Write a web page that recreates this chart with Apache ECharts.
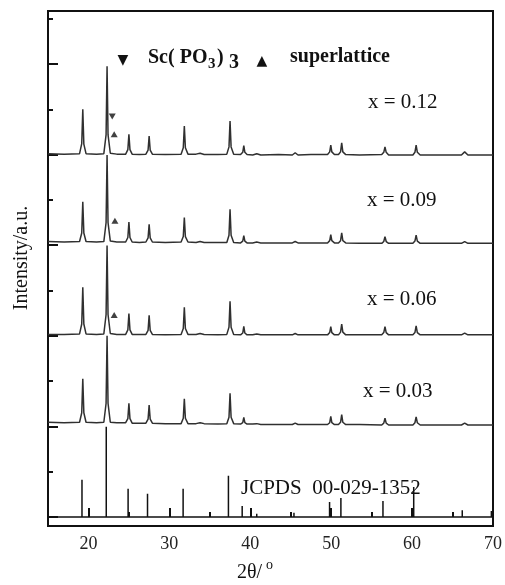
<!DOCTYPE html>
<html><head><meta charset="utf-8">
<script src="https://cdn.jsdelivr.net/npm/echarts/dist/echarts.min.js"></script>
<style>html,body{margin:0;padding:0;background:#fff}#c{width:505px;height:585px}</style>
</head><body><div id="c"></div>
<script>
// 2θ grid shared by the four measured patterns
var twoTheta = [15.0,17.0,18.9,19.17,19.3,19.43,19.7,21.0,21.9,22.18,22.3,22.42,22.7,23.5,24.6,24.87,25.0,25.13,25.4,26.3,
27.1,27.37,27.5,27.63,27.9,29.5,31.45,31.72,31.85,31.98,32.3,33.3,33.8,34.3,36.0,37.1,37.37,37.5,37.63,37.95,
38.8,39.07,39.2,39.33,39.6,40.3,40.8,41.3,43.5,45.2,45.55,45.9,47.5,49.55,49.82,49.95,50.08,50.4,50.9,51.16,
51.3,51.44,51.8,53.5,56.25,56.5,56.65,56.8,57.1,58.5,60.1,60.35,60.5,60.65,61.0,63.0,66.1,66.5,66.9,68.5,70.0];

var int012 = [8.02,8.01,8.02,8.24,9.00,8.23,8.02,8.01,8.02,8.44,9.95,8.44,8.03,8.01,8.01,8.11,8.45,8.11,8.01,8.00,
8.01,8.10,8.41,8.10,8.01,8.00,8.01,8.15,8.63,8.15,8.01,8.01,8.03,8.00,8.00,8.01,8.17,8.74,8.17,8.01,
8.00,8.05,8.20,8.05,8.00,7.99,8.02,7.99,8.00,7.99,8.04,7.99,8.00,8.00,8.06,8.21,8.06,8.00,8.00,8.06,
8.26,8.06,8.00,7.99,8.00,8.05,8.17,8.05,7.99,7.99,7.99,8.05,8.21,8.05,7.99,7.99,7.99,8.06,7.99,7.99,7.99];

var int009 = [6.08,6.07,6.08,6.27,6.96,6.27,6.08,6.07,6.08,6.50,7.99,6.50,6.09,6.07,6.07,6.17,6.51,6.17,6.07,6.06,
6.07,6.16,6.46,6.16,6.07,6.06,6.07,6.19,6.61,6.19,6.07,6.06,6.08,6.06,6.06,6.06,6.22,6.79,6.22,6.06,
6.05,6.09,6.21,6.09,6.05,6.05,6.07,6.05,6.05,6.05,6.08,6.05,6.05,6.05,6.10,6.23,6.10,6.05,6.05,6.10,
6.27,6.10,6.05,6.04,6.04,6.08,6.19,6.08,6.04,6.04,6.04,6.09,6.22,6.09,6.04,6.04,6.04,6.08,6.04,6.04,6.04];

var int006 = [4.03,4.03,4.04,4.26,5.07,4.26,4.04,4.03,4.04,4.47,5.99,4.47,4.05,4.03,4.03,4.13,4.49,4.13,4.03,4.03,
4.03,4.12,4.45,4.12,4.03,4.02,4.03,4.16,4.63,4.16,4.03,4.03,4.05,4.03,4.02,4.03,4.19,4.76,4.19,4.03,
4.02,4.06,4.21,4.06,4.02,4.02,4.04,4.02,4.02,4.02,4.05,4.02,4.02,4.02,4.07,4.20,4.07,4.02,4.02,4.08,
4.26,4.08,4.02,4.02,4.02,4.07,4.20,4.07,4.02,4.02,4.02,4.07,4.22,4.07,4.02,4.02,4.02,4.06,4.02,4.02,4.02];

var int003 = [2.09,2.08,2.09,2.30,3.05,2.30,2.09,2.08,2.09,2.51,4.00,2.51,2.09,2.08,2.08,2.17,2.51,2.17,2.07,2.07,
2.07,2.16,2.47,2.16,2.07,2.06,2.06,2.18,2.61,2.18,2.06,2.06,2.08,2.06,2.05,2.06,2.20,2.73,2.20,2.06,
2.05,2.08,2.20,2.08,2.05,2.05,2.06,2.04,2.04,2.04,2.07,2.04,2.04,2.04,2.08,2.22,2.08,2.04,2.04,2.09,
2.26,2.09,2.04,2.04,2.03,2.07,2.18,2.07,2.03,2.03,2.03,2.08,2.21,2.08,2.03,2.03,2.03,2.07,2.03,2.03,2.03];

// JCPDS 00-029-1352 reference sticks
var stickPos = [19.2,22.2,24.9,27.3,31.7,33.7,37.3,39.0,40.8,42.0,45.4,47.0,48.5,49.8,51.2,53.0,54.5,56.4,58.0,60.2,62.5,64.0,66.2,67.5,68.7,69.8];
var stickH   = [0.82,1.99,0.62,0.51,0.62,0.04,0.91,0.24,0.07,0.03,0.09,0.03,0.03,0.33,0.42,0.03,0.03,0.35,0.03,0.66,0.03,0.03,0.15,0.03,0.03,0.13];

// phase markers
var markDown = [[22.94, 8.84]];
var markUp   = [[23.18, 8.45],[23.27, 6.54],[23.18, 4.46]];

var xMajor = [20,30,40,50,60,70];
var xMinor = [25,35,45,55,65];
var yMajor = [0,2,4,6,8,10];
var yMinor = [1,3,5,7,9,11];

var sampleLabels = ['x = 0.12','x = 0.09','x = 0.06','x = 0.03'];

function pairs(xs, ys){ return xs.map(function(x,i){ return [x, ys[i]]; }); }
var stickLine = [[15,0]];
stickPos.forEach(function(p,i){ stickLine.push([p,0],[p,stickH[i]],[p,0]); });
stickLine.push([70,0]);

var serif = '"Liberation Serif","Times New Roman",serif';
var chart = echarts.init(document.getElementById('c'), null, {renderer:'canvas'});
var lineStyle = {color:'#303030', width:1.5};
function curve(d){ return {type:'line', data:d, showSymbol:false, symbol:'none', lineStyle:lineStyle, animation:false, z:3}; }

var textColor = '#111';
var opt = {
  animation:false,
  grid:{left:48, right:9, top:11, bottom:59, show:true, borderColor:'#111', borderWidth:2},
  xAxis:[
    {type:'value', min:15, max:70, axisLine:{show:false}, splitLine:{show:false},
     axisTick:{show:true, inside:true, length:9, lineStyle:{color:'#111', width:2}, customValues:xMajor},
     axisLabel:{show:true, customValues:xMajor, color:'#222', fontFamily:serif, fontSize:18, margin:9}},
    {type:'value', min:15, max:70, position:'bottom', axisLine:{show:false}, splitLine:{show:false},
     axisTick:{show:true, inside:true, length:5, lineStyle:{color:'#111', width:2}, customValues:xMinor},
     axisLabel:{show:false}}
  ],
  yAxis:[
    {type:'value', min:-0.2, max:11.17, axisLine:{show:false}, splitLine:{show:false},
     axisTick:{show:true, inside:true, length:10, lineStyle:{color:'#111', width:2}, customValues:yMajor},
     axisLabel:{show:false}},
    {type:'value', min:-0.2, max:11.17, position:'left', axisLine:{show:false}, splitLine:{show:false},
     axisTick:{show:true, inside:true, length:5, lineStyle:{color:'#111', width:2}, customValues:yMinor},
     axisLabel:{show:false}}
  ],
  series:[
    curve(pairs(twoTheta,int012)),
    curve(pairs(twoTheta,int009)),
    curve(pairs(twoTheta,int006)),
    curve(pairs(twoTheta,int003)),
    {type:'line', data:stickLine, showSymbol:false, symbol:'none', lineStyle:{color:'#111', width:1.5}, animation:false, z:3},
    {type:'scatter', data:markDown, symbol:'triangle', symbolRotate:180, symbolSize:[7,6], itemStyle:{color:'#111'}, z:4},
    {type:'scatter', data:markUp, symbol:'triangle', symbolSize:[7,6], itemStyle:{color:'#111'}, z:4}
  ],
  graphic:[]
};
var hdr = [
  {type:'text', x:123, y:60, style:{text:'▼', font:'14px "DejaVu Sans"', fill:textColor, align:'center', verticalAlign:'middle'}},
  {type:'text', x:148, y:58, style:{text:'Sc( PO', font:'bold 20px '+serif, fill:textColor, verticalAlign:'middle'}},
  {type:'text', x:208, y:64, style:{text:'3', font:'bold 15px '+serif, fill:textColor, verticalAlign:'middle'}},
  {type:'text', x:217, y:58, style:{text:')', font:'bold 20px '+serif, fill:textColor, verticalAlign:'middle'}},
  {type:'text', x:229, y:63, style:{text:'3', font:'bold 20px '+serif, fill:textColor, verticalAlign:'middle'}},
  {type:'text', x:262, y:61, style:{text:'▲', font:'14px "DejaVu Sans"', fill:textColor, align:'center', verticalAlign:'middle'}},
  {type:'text', x:290, y:57, style:{text:'superlattice', font:'bold 20px '+serif, fill:textColor, verticalAlign:'middle'}}
];
var labY = [102, 200, 299, 391];
var labX = [368, 367, 367, 363];
sampleLabels.forEach(function(s,i){
  hdr.push({type:'text', x:labX[i], y:labY[i], style:{text:s, font:'21px '+serif, fill:textColor, verticalAlign:'middle'}});
});
hdr.push({type:'text', x:241, y:488, style:{text:'JCPDS  00-029-1352', font:'21px '+serif, fill:textColor, verticalAlign:'middle'}});
hdr.push({type:'text', x:22, y:258, rotation:Math.PI/2, style:{text:'Intensity/a.u.', font:'20px '+serif, fill:textColor, align:'center', verticalAlign:'middle'}});
hdr.push({type:'text', x:237, y:573, style:{text:'2θ/', font:'20px '+serif, fill:textColor, verticalAlign:'middle'}});
hdr.push({type:'text', x:266, y:565, style:{text:'o', font:'14px '+serif, fill:textColor, verticalAlign:'middle'}});
opt.graphic = hdr;
chart.setOption(opt);
</script></body></html>
